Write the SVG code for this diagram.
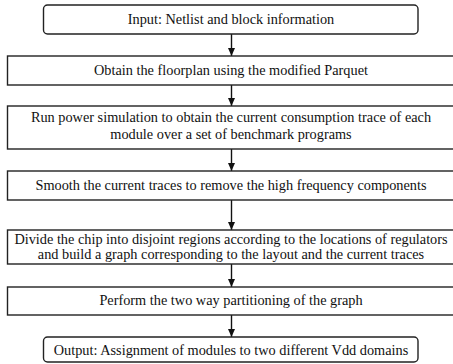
<svg xmlns="http://www.w3.org/2000/svg" width="453" height="364" viewBox="0 0 453 364">
  <defs>
    <marker id="arrow" viewBox="0 0 8 10" refX="8" refY="5" markerWidth="8" markerHeight="10" markerUnits="userSpaceOnUse" orient="auto">
      <path d="M0,1.5 L8,5 L0,8.5 Z" fill="#111"/>
    </marker>
    <style>
      .box { fill: #fff; stroke: #222; stroke-width: 1.4; }
      .lbl { font-size: 14.3px; fill: #111; text-anchor: middle; }
      .edge { stroke: #111; stroke-width: 1.4; fill: none; marker-end: url(#arrow); }
    </style>
  </defs>
  <rect width="453" height="364" fill="#fff"/>

  <g id="edges">
    <line class="edge" x1="231.5" y1="34" x2="231.5" y2="56"/>
    <line class="edge" x1="231.5" y1="85" x2="231.5" y2="106"/>
    <line class="edge" x1="231.5" y1="149" x2="231.5" y2="171"/>
    <line class="edge" x1="231.5" y1="200" x2="231.5" y2="230"/>
    <line class="edge" x1="231.5" y1="264" x2="231.5" y2="287"/>
    <line class="edge" x1="231.5" y1="315" x2="231.5" y2="337"/>
  </g>

  <g font-family="Liberation Serif, Times New Roman, DejaVu Serif, serif">
    <g id="input">
      <rect class="box" x="43.5" y="5" width="374.5" height="29" rx="4"/>
      <text class="lbl" x="231" y="24">Input: Netlist and block information</text>
    </g>

    <g id="floorplan">
      <rect class="box" x="7.5" y="56" width="448" height="29"/>
      <text class="lbl" x="231" y="75">Obtain the floorplan using the modified Parquet</text>
    </g>

    <g id="power-sim">
      <rect class="box" x="7.5" y="106" width="448" height="43"/>
      <text class="lbl" x="231" y="122">Run power simulation to obtain the current consumption trace of each</text>
      <text class="lbl" x="231" y="139">module over a set of benchmark programs</text>
    </g>

    <g id="smooth">
      <rect class="box" x="7.5" y="171" width="448" height="29"/>
      <text class="lbl" x="231" y="190">Smooth the current traces to remove the high frequency components</text>
    </g>

    <g id="divide">
      <rect class="box" x="7.5" y="230" width="448" height="34"/>
      <text class="lbl" x="231" y="244">Divide the chip into disjoint regions according to the locations of regulators</text>
      <text class="lbl" x="231" y="259">and build a graph corresponding to the layout and the current traces</text>
    </g>

    <g id="partition">
      <rect class="box" x="7.5" y="287" width="448" height="28"/>
      <text class="lbl" x="231" y="305">Perform the two way partitioning of the graph</text>
    </g>

    <g id="output">
      <rect class="box" x="43.5" y="337" width="374.5" height="25" rx="4"/>
      <text class="lbl" x="231" y="355">Output: Assignment of modules to two different Vdd domains</text>
    </g>
  </g>
</svg>
